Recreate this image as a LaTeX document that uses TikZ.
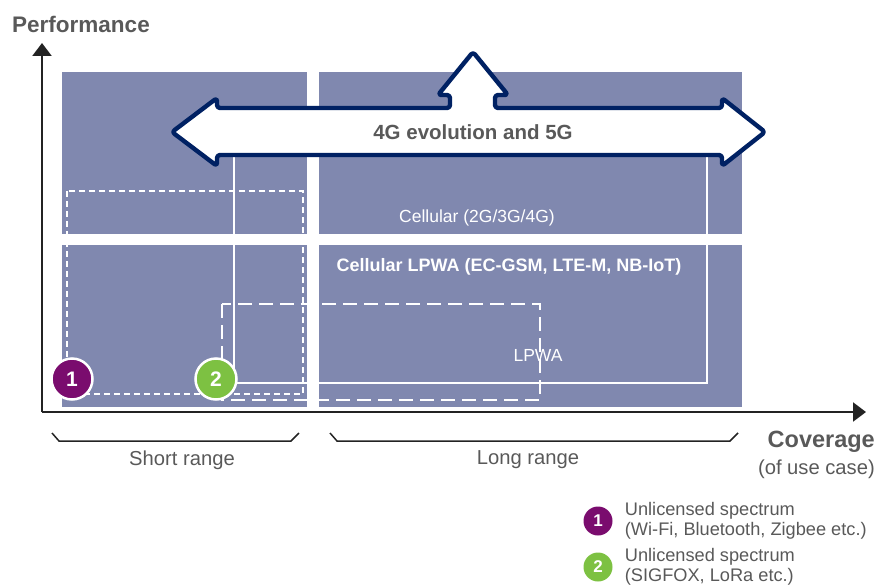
\documentclass[tikz,border=0pt]{standalone}
\usepackage{fontspec}
\setmainfont{Liberation Sans}
\usetikzlibrary{positioning,arrows.meta}
\definecolor{areablue}{RGB}{128,136,175}
\definecolor{arrownavy}{RGB}{0,33,99}
\definecolor{labelgray}{RGB}{89,89,89}
\definecolor{axisgray}{RGB}{35,35,35}
\definecolor{badgepurple}{RGB}{122,12,110}
\definecolor{badgegreen}{RGB}{125,193,66}
\newcommand{\fsz}[2]{\fontsize{#1}{#2}\selectfont}
\begin{document}
\begin{tikzpicture}[
  x=1pt, y=-1pt,
  area/.style={fill=areablue, draw=none},
  axis/.style={-{Triangle[length=13pt,width=19pt]}, line width=2.2pt, draw=axisgray},
  brace/.style={line width=1.5pt, draw=axisgray},
  shortbox/.style={draw=white, line width=1.6pt, dash pattern=on 6pt off 4pt},
  lpwabox/.style={draw=white, line width=2.4pt, dash pattern=on 14pt off 7pt},
  cellbox/.style={draw=white, line width=1.6pt},
  badge/.style={circle, draw=white, line width=2.5pt, minimum size=41pt, inner sep=0pt,
    text=white, font=\fsz{21}{24}\bfseries},
  legbadge/.style={circle, minimum size=29pt, inner sep=0pt, text=white, font=\fsz{17}{20}\bfseries},
  axislabel/.style={text=labelgray, font=\fsz{22.5}{26}\bfseries, inner sep=0pt},
  rangelabel/.style={text=labelgray, font=\fsz{20.2}{23}, inner sep=0pt},
  arealabel/.style={text=white, inner sep=0pt},
  legendtext/.style={text=labelgray, font=\fsz{18.2}{20}, align=left, inner sep=0pt}]

\useasboundingbox (0,0) rectangle (877,586);

% The four shaded areas
\fill[area] (62,72) rectangle (307,234);
\fill[area] (319,72) rectangle (742,234);
\fill[area] (62,245) rectangle (307,407);
\fill[area] (319,245) rectangle (742,407);

% Technology boxes
\draw[cellbox] (234,140) rectangle (707,383);
\draw[shortbox] (67,191) rectangle (303,394);
\draw[lpwabox] (222,304) rectangle (540,400);

% Axes
\coordinate (origin) at (42,412);
\coordinate (perfTip) at (42,43);
\coordinate (covTip) at (866,412);
\draw[axis] (origin) -- (perfTip);
\draw[axis] (origin) -- (covTip);

% Badges on the chart
\node[badge, fill=badgepurple] (badgeOne) at (72,379) {1};
\node[badge, fill=badgegreen] (badgeTwo) at (216,379) {2};

% The evolution arrow
\draw[arrownavy, fill=white, line width=4.4pt, line join=round, rounded corners=3pt]
  (172,132) -- (217,98) -- (217,108) -- (450,108) -- (450,95) -- (438,95)
  -- (473,52) -- (508,95) -- (495,95) -- (495,108) -- (722,108) -- (722,98)
  -- (765,132) -- (722,166) -- (722,155) -- (217,155) -- (217,166) -- cycle;
\node[text=labelgray, font=\fsz{20.5}{24}\bfseries, inner sep=0pt] (evolution) at (473,132) {4G evolution and 5G};

% Area labels
\node[arealabel, font=\fsz{17.5}{20}] (cellular) at (477,218) {Cellular (2G/3G/4G)};
\node[arealabel, font=\fsz{18}{21}\bfseries] (cellularLpwa) at (509,267) {Cellular LPWA (EC-GSM, LTE-M, NB-IoT)};
\node[arealabel, font=\fsz{17.5}{20}] (lpwa) at (538,355) {LPWA};

% Axis labels
\node[axislabel] (performance) at (81,24) {Performance};
\node[axislabel, font=\fsz{23.5}{27}\bfseries, anchor=east] (coverage) at (875,442) {Coverage};
\node[rangelabel, below=7pt of coverage.south east, anchor=north east] (useCase) {(of use case)};

% Range braces
\draw[brace] (52,433) -- (59,441) -- (291,441) -- (299,433);
\draw[brace] (330,433) -- (337,441) -- (730,441) -- (738,433);
\node[rangelabel] (shortRange) at (182,460) {Short range};
\node[rangelabel] (longRange) at (528,460) {Long range};

% Legend
\node[legbadge, fill=badgepurple] (legOne) at (598,521) {1};
\node[legbadge, fill=badgegreen] (legTwo) at (598,567) {2};
\node[legendtext, right=12pt of legOne] (legOneText) {Unlicensed spectrum\\(Wi-Fi, Bluetooth, Zigbee etc.)};
\node[legendtext, right=12pt of legTwo] (legTwoText) {Unlicensed spectrum\\(SIGFOX, LoRa etc.)};
\end{tikzpicture}
\end{document}
